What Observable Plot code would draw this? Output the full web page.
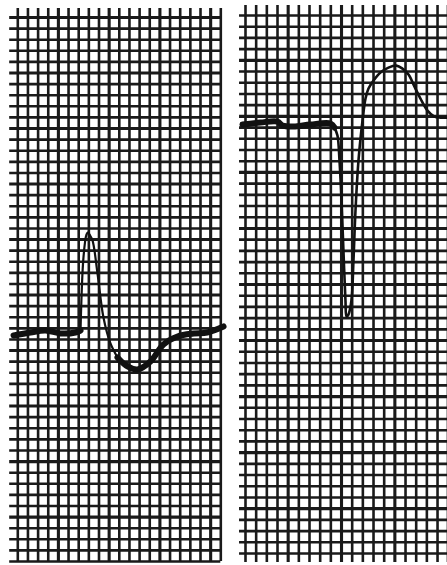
<!DOCTYPE html>
<html><head><meta charset="utf-8">
<script src="https://cdn.jsdelivr.net/npm/d3@7"></script>
<script src="https://cdn.jsdelivr.net/npm/@observablehq/plot@0.6"></script>
<style>
body{margin:0;background:#fff}
#c{position:relative;width:447px;height:565px;overflow:hidden;background:#fff}
#c svg{position:absolute;top:0}
</style>
</head><body><div id="c"></div><script>
// Grid units: mm (small squares). x = time in mm, y = amplitude in mm above bottom line.
// Left lead
const leftBase = [[-0.42,20.36],[1.25,20.63],[2.73,20.81],[4.21,20.54],[5.68,20.63],[6.18,20.81]];
const leftSpike = [[6.18,20.81],[6.47,27.39],[6.77,29.46],[6.92,29.64],[7.06,29.46],[7.36,28.92],[7.85,25.95],[8.44,21.98],[9.13,19.64],[9.82,18.38]];
const leftTrough = [[9.82,18.38],[10.81,17.57],[11.79,17.30],[13.07,18.02],[14.35,19.55],[15.73,20.27],[17.31,20.54],[18.67,20.63],[20.27,21.17]];
// Right lead
const rightBase = [[-0.28,38.27],[1.41,38.45],[3.0,38.54],[3.47,38.18],[4.5,38.09],[6.09,38.27],[7.97,38.36],[8.34,38.0]];
const rightQRS = [[8.34,38.0],[8.62,37.29],[8.81,35.06],[9.0,31.49],[9.18,27.03],[9.37,22.57],[9.47,21.14],[9.65,21.32],[9.93,22.57],[10.12,26.14],[10.31,30.6],[10.59,35.06],[10.97,38.63],[11.25,40.59],[11.53,41.48],[12.0,42.19],[12.65,42.91],[13.4,43.35],[14.15,43.53],[14.71,43.26],[15.28,42.73],[15.84,41.66],[16.4,40.59],[17.06,39.52],[17.71,38.98],[18.28,38.89],[19.03,38.89]];
// grid line counts
const leftCols = d3.range(0, 21), leftRows = d3.range(0, 50);
const rightCols = d3.range(0, 20), rightRows = d3.range(0, 49);

const ink = "#1a1a1a";
function panel({width, xd, xr, yd, yr, cols, rows, vExt, hExt, traces}) {
  return Plot.plot({
    width, height: 565, margin: 0,
    style: {background: "transparent", overflow: "visible"},
    x: {domain: xd, range: xr, axis: null},
    y: {domain: yd, range: yr, axis: null},
    marks: [
      Plot.ruleX(cols, {y1: vExt[0], y2: vExt[1], stroke: ink, strokeWidth: d => d % 5 === 4 ? 3.1 : 2.6}),
      Plot.ruleY(rows, {x1: hExt[0], x2: hExt[1], stroke: ink, strokeWidth: d => d % 5 === 4 ? 3.1 : 2.6}),
      ...traces.map(([data, w]) => Plot.line(data, {x: d => d[0], y: d => d[1], stroke: "#111", strokeWidth: w, curve: "catmull-rom", strokeLinecap: "round", strokeLinejoin: "round"}))
    ]
  });
}

const left = panel({
  width: 230, xd: [0, 20], xr: [17.3, 220.3], yd: [0, 49], yr: [561, 17],
  cols: leftCols, rows: leftRows, vExt: [0, 49.8], hExt: [-0.8, 20],
  traces: [[leftBase, 6], [leftSpike, 2.2], [leftTrough, 6]]
});
left.style.left = "0px";
const right = panel({
  width: 217, xd: [0, 19], xr: [15, 217.7], yd: [0, 48], yr: [553, 15],
  cols: rightCols, rows: rightRows, vExt: [-0.8, 48.9], hExt: [-0.56, 19.2],
  traces: [[rightBase, 6], [rightQRS, 2.6]]
});
right.style.left = "230px";
const c = document.getElementById("c");
c.append(left, right);
</script></body></html>
